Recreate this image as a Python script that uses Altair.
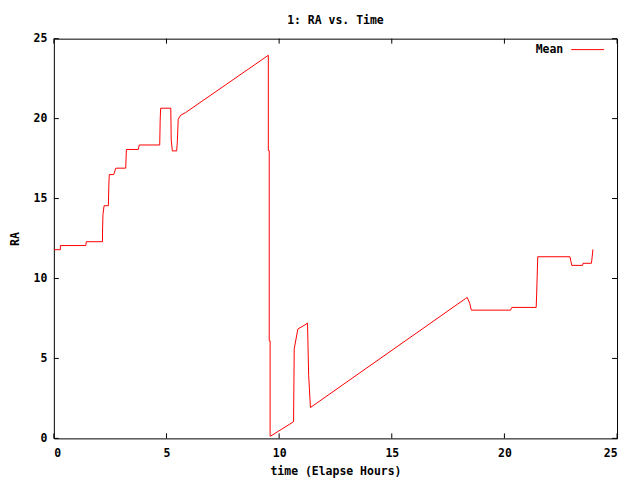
import altair as alt
import pandas as pd

# Series "Mean": time (elapsed hours) vs RA
time_h = [0.0, 0.29, 0.29, 1.42, 1.44, 2.16, 2.16, 2.18, 2.23, 2.42, 2.44, 2.46,
          2.66, 2.68, 2.75, 3.19, 3.22, 3.75, 3.79, 4.70, 4.72, 4.74, 5.19, 5.21,
          5.26, 5.45, 5.48, 5.52, 5.63, 5.85, 9.52, 9.52, 9.56, 9.56, 9.60, 9.60,
          9.62, 10.64, 10.67, 10.83, 11.15, 11.26, 11.31, 11.39, 18.28, 18.35,
          18.46, 18.53, 20.27, 20.33, 21.41, 21.43, 21.48, 22.91, 22.99, 23.47,
          23.49, 23.86, 23.88, 23.93]
ra = [11.80, 11.80, 12.06, 12.06, 12.30, 12.30, 12.9, 14.0, 14.55, 14.55, 15.8, 16.5,
      16.5, 16.6, 16.9, 16.9, 18.07, 18.07, 18.35, 18.35, 19.9, 20.65, 20.65, 18.66,
      17.98, 17.98, 18.5, 19.96, 20.21, 20.38, 23.96, 18.0, 18.0, 6.1, 6.1, 0.14,
      0.14, 1.04, 5.6, 6.84, 7.1, 7.21, 3.94, 1.93, 8.75, 8.81,
      8.45, 8.02, 8.02, 8.19, 8.19, 8.96, 11.36, 11.36, 10.82, 10.82,
      10.95, 10.95, 11.15, 11.82]

tick_values = [0, 5, 10, 15, 20, 25]
legend_labels = ["Mean"]

W, H = 565, 401
FONT = "DejaVu Sans Mono"
FS = 11.5
TICK = 5

df = pd.DataFrame({"t": time_h, "ra": ra, "i": list(range(len(time_h)))})
ticks = pd.DataFrame({"v": tick_values})
leg = pd.DataFrame({"label": legend_labels})

xscale = alt.Scale(domain=[0, 25], nice=False, zero=False)
yscale = alt.Scale(domain=[0, 25], nice=False, zero=False)

line = alt.Chart(df).mark_line(color="#ff0000", strokeWidth=1).encode(
    x=alt.X("t:Q", scale=xscale,
            axis=alt.Axis(values=tick_values, ticks=False, domain=False, grid=False,
                          labelFont=FONT, labelFontSize=FS, labelFontWeight="bold",
                          labelColor="black", labelPadding=9,
                          title="time (Elapse Hours)", titleFont=FONT,
                          titleFontSize=FS, titleFontWeight="bold", titleColor="black",
                          titleX=W / 2, titleY=33, titleBaseline="middle",
                          titleAlign="center")),
    y=alt.Y("ra:Q", scale=yscale,
            axis=alt.Axis(values=tick_values, ticks=False, domain=False, grid=False,
                          labelFont=FONT, labelFontSize=FS, labelFontWeight="bold",
                          labelColor="black", labelPadding=7,
                          title="RA", titleFont=FONT, titleFontSize=FS,
                          titleFontWeight="bold", titleColor="black", titleAngle=270,
                          titleX=-38, titleY=H / 2, titleBaseline="middle",
                          titleAlign="center")),
    order="i:Q",
)

tick_base = alt.Chart(ticks).mark_rule(color="black", strokeWidth=1)
bottom_ticks = tick_base.encode(x=alt.X("v:Q", scale=xscale), y=alt.value(H), y2=alt.value(H - TICK))
top_ticks = tick_base.encode(x=alt.X("v:Q", scale=xscale), y=alt.value(0), y2=alt.value(TICK))
left_ticks = tick_base.encode(y=alt.Y("v:Q", scale=yscale), x=alt.value(0), x2=alt.value(TICK))
right_ticks = tick_base.encode(y=alt.Y("v:Q", scale=yscale), x=alt.value(W), x2=alt.value(W - TICK))

leg_text = alt.Chart(leg).mark_text(
    font=FONT, fontSize=FS, fontWeight="bold", align="right", baseline="middle", color="black"
).encode(text="label:N", x=alt.value(511), y=alt.value(11))
leg_line = alt.Chart(leg).mark_rule(color="#ff0000", strokeWidth=1).encode(
    x=alt.value(519), x2=alt.value(552), y=alt.value(11), detail="label:N")

chart = alt.layer(
    bottom_ticks, top_ticks, left_ticks, right_ticks, line, leg_text, leg_line
).properties(
    width=W, height=H,
    title=alt.TitleParams("1: RA vs. Time", font=FONT, fontSize=FS, fontWeight="bold",
                          anchor="middle", offset=6, color="black"),
    autosize=alt.AutoSizeParams(type="none"),
    padding={"left": 46, "top": 30, "right": 15, "bottom": 41},
    background="white",
).configure_view(
    stroke="black", strokeWidth=1
)

chart.save("out.html", embed_options={"renderer": "svg", "actions": False})
